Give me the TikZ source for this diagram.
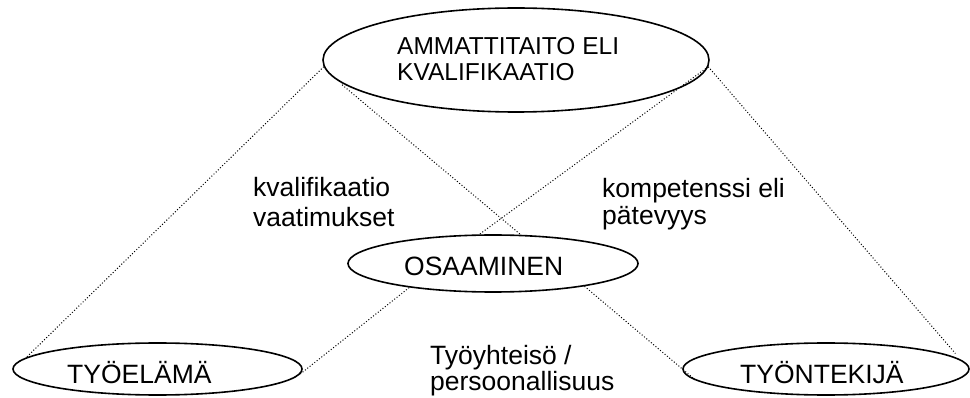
\documentclass[tikz,border=0pt]{standalone}
\usepackage{fontspec}
\setmainfont{Liberation Sans}
\usetikzlibrary{shapes.geometric}
\begin{document}
\begin{tikzpicture}[x=1pt,y=-1pt,
  oval/.style={ellipse, draw=black, line width=1.6pt, inner sep=0pt},
  txt/.style={inner sep=0pt, anchor=base west, align=left,
              font=\fontsize{26.5}{28}\selectfont},
  link/.style={draw=black, line width=1pt, dash pattern=on 1pt off 2pt}
]
\useasboundingbox (0,0) rectangle (970,398);

% ovals
\node[oval, minimum width=386pt, minimum height=104pt] (amm)   at (516,60)    {};
\node[oval, minimum width=290pt, minimum height=57pt]  (osa)   at (493,263.5) {};
\node[oval, minimum width=289pt, minimum height=52pt]  (tyoel) at (157.5,369) {};
\node[oval, minimum width=286pt, minimum height=52pt]  (tyont) at (826,369)   {};

% texts inside the ovals (multi-line nodes sit on their last baseline)
\node[txt, font=\fontsize{24.5}{26}\selectfont] (ammT) at (397,81) {AMMATTITAITO ELI\\KVALIFIKAATIO};
\node[txt] (osaT)   at (404,276) {OSAAMINEN};
\node[txt] (tyoelT) at (67,383)  {TYÖELÄMÄ};
\node[txt] (tyontT) at (740,383) {TYÖNTEKIJÄ};

% labels between the ovals
\node[txt, font=\fontsize{26.5}{30}\selectfont] (kvLab)   at (253,227) {kvalifikaatio\\vaatimukset};
\node[txt, font=\fontsize{26.5}{27}\selectfont] (kompLab) at (602,225) {kompetenssi eli\\pätevyys};
\node[txt, font=\fontsize{26.5}{26}\selectfont] (yhtLab)  at (430,390) {Työyhteisö /\\persoonallisuus};

% dotted connections
\draw[link] (amm.182) -- (tyoel.175);
\draw[link, shorten <=9pt] (amm.186) -- (osa.46);
\draw[link] (amm.358) -- (osa.115);
\draw[link, shorten >=8pt] (amm.358) -- (tyont.4);
\draw[link] (tyoel.358) -- (osa.196);
\draw[link] (osa.346) -- (tyont.185);
\end{tikzpicture}
\end{document}
